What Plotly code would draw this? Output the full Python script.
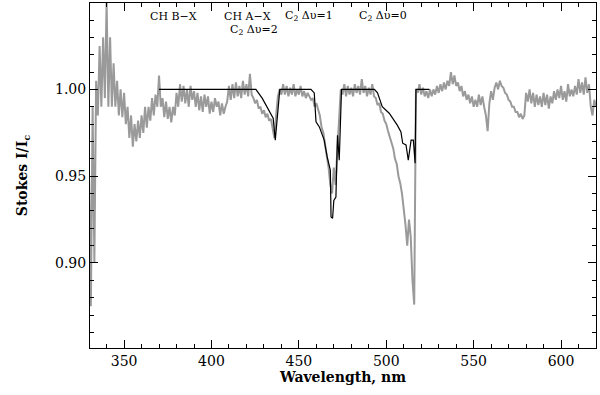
import plotly.graph_objects as go

# Observed spectrum (grey), 1 nm sampling from 330 to 620 nm
obs_wl = list(range(330, 621))
obs_int = [
    0.95, 0.875, 0.99, 0.90, 1.005, 0.985, 1.025, 0.99, 1.03, 0.995,
    1.05, 0.99, 1.03, 0.99, 1.015, 0.99, 1.005, 0.985, 1.0, 0.984,
    0.998, 0.98, 0.99, 0.972, 0.985, 0.967, 0.98, 0.97, 0.982, 0.972,
    0.985, 0.975, 0.99, 0.978, 0.99, 0.982, 0.995, 0.985, 0.997, 0.99,
    1.008, 0.99, 0.995, 0.984, 0.993, 0.983, 0.99, 0.981, 0.99, 0.985,
    0.998, 0.99, 1.003, 0.993, 1.002, 0.992, 1.0, 0.99, 1.002, 0.994,
    0.999, 0.99, 0.998, 0.988, 0.996, 0.987, 0.997, 0.99, 0.996, 0.986,
    0.993, 0.987, 0.995, 0.99, 0.993, 0.985, 0.992, 0.986, 0.99, 0.993,
    1.002, 0.994, 1.003, 0.995, 1.004, 0.996, 1.002, 0.995, 1.005, 0.997,
    1.003, 0.996, 1.009, 0.997, 0.995, 0.992, 0.994, 0.989, 0.99, 0.986,
    0.988, 0.984, 0.986, 0.982, 0.983, 0.978, 0.972, 0.985, 0.996, 1.0,
    0.997, 1.003, 0.997, 1.002, 0.996, 1.001, 0.997, 1.003, 0.996, 1.0,
    0.997, 1.002, 0.996, 0.999, 0.995, 0.998, 0.996, 0.994, 0.995, 0.99,
    0.992, 0.988, 0.985, 0.978, 0.975, 0.968, 0.962, 0.955, 0.945, 0.94,
    0.955, 0.945, 0.965, 0.98, 1.0, 0.997, 1.003, 0.996, 1.002, 0.997,
    1.001, 0.996, 1.003, 0.998, 1.002, 0.997, 1.006, 0.998, 1.002, 0.996,
    1.001, 0.997, 1.003, 0.996, 0.995, 0.991, 0.992, 0.987, 0.986, 0.982,
    0.98, 0.976, 0.973, 0.969, 0.966, 0.96, 0.957, 0.95, 0.946, 0.94,
    0.932, 0.922, 0.91, 0.925, 0.915, 0.89, 0.876, 1.0, 0.998, 1.003,
    0.997, 1.001, 0.996, 0.999, 0.995, 1.0, 0.996, 1.0, 0.997, 1.002,
    0.998, 1.003, 0.999, 1.004, 1.0, 1.005, 1.002, 1.01, 1.003, 1.008,
    1.002, 1.004, 0.999, 1.002, 0.996, 0.999, 0.994, 0.997, 0.992, 0.996,
    0.99, 0.994, 0.99, 0.997, 0.991, 0.996, 0.99, 0.985, 0.976, 0.992,
    0.999, 0.994, 1.001, 1.004, 1.0, 1.005, 1.002, 1.001, 0.998, 0.997,
    0.994, 0.993, 0.99, 0.99, 0.987, 0.987, 0.984, 0.986, 0.983, 0.985,
    0.998, 0.993, 1.0, 0.992, 0.998, 0.99, 0.997, 0.991, 0.996, 0.99,
    0.998, 0.991, 0.997, 0.989, 0.996, 0.992, 0.999, 0.994, 1.0, 0.995,
    1.002, 0.994, 0.999, 0.993, 1.003, 0.996, 1.0, 0.996, 1.002, 0.997,
    1.006, 0.998, 1.004, 0.997, 1.007, 0.998, 1.003, 0.99, 0.985, 0.994, 0.99,
]

# Synthetic model spectrum (black)
model_wl = [370.0, 425.4, 429.0, 433.0, 435.3, 436.5, 437.6, 439.1,
            456.9, 458.8, 459.8, 461.7, 464.5, 466.2, 468.0, 468.4, 469.3,
            470.0, 471.2, 472.1, 473.1, 473.7, 474.4,
            493.2, 495.0, 497.7, 501.7, 506.3, 508.4, 509.4, 511.3, 512.6,
            514.2, 515.5, 516.5, 517.0, 524.7]
model_int = [1.0, 1.0, 0.995, 0.988, 0.9834, 0.9708, 0.9823, 1.0,
             1.0, 0.998, 0.9813, 0.9784, 0.9708, 0.9611, 0.9535, 0.9265, 0.9258,
             0.936, 0.938, 0.9736, 0.9592, 0.9765, 1.0,
             1.0, 0.998, 0.990, 0.9863, 0.9794, 0.9755, 0.969, 0.968, 0.9592,
             0.9708, 0.9708, 0.9575, 1.0, 1.0]

# Band labels
band_labels = ["CH B−X", "CH A−X", "C<sub>2</sub> Δυ=2", "C<sub>2</sub> Δυ=1", "C<sub>2</sub> Δυ=0"]
band_x = [378.3, 420.7, 424.1, 455.9, 498.0]
band_y = [1.0422, 1.0422, 1.0345, 1.0422, 1.0422]

x_ticks = [350, 400, 450, 500, 550, 600]
y_ticks = [0.90, 0.95, 1.00]

FONT = "DejaVu Serif"

fig = go.Figure()
fig.add_trace(go.Scatter(x=obs_wl, y=obs_int, mode="lines",
                         line=dict(color="#9a9a9a", width=2), showlegend=False))
fig.add_trace(go.Scatter(x=model_wl, y=model_int, mode="lines",
                         line=dict(color="black", width=1.2), showlegend=False))

for t, x, y in zip(band_labels, band_x, band_y):
    fig.add_annotation(x=x, y=y, text=t, showarrow=False,
                       font=dict(family=FONT, size=11, color="black"))

axis_common = dict(showline=True, linecolor="black", linewidth=1, mirror="ticks",
                   ticks="inside", tickcolor="black", ticklen=8, tickwidth=1,
                   showgrid=False, zeroline=False, automargin=False,
                   tickfont=dict(family=FONT, size=14, color="black"))

fig.update_xaxes(range=[330.5, 620], tickvals=x_ticks,
                 minor=dict(dtick=10, tick0=330, ticks="inside", ticklen=4, tickcolor="black"),
                 title=dict(text="<b>Wavelength, nm</b>", font=dict(family=FONT, size=14, color="black"),
                            standoff=2),
                 **axis_common)
fig.update_yaxes(range=[0.851, 1.0498], tickvals=y_ticks, tickformat=".2f",
                 minor=dict(dtick=0.01, tick0=0.85, ticks="inside", ticklen=4, tickcolor="black"),
                 title=dict(text="<b>Stokes I/I<sub>c</sub></b>", font=dict(family=FONT, size=14, color="black"),
                            standoff=24),
                 **axis_common)

fig.update_layout(width=600, height=395, margin=dict(l=90, r=4, t=3, b=47),
                  plot_bgcolor="white", paper_bgcolor="white")

fig.write_html("out.html", config={"displayModeBar": False},
               post_script="document.body.style.margin='0';document.body.style.overflow='hidden';")
